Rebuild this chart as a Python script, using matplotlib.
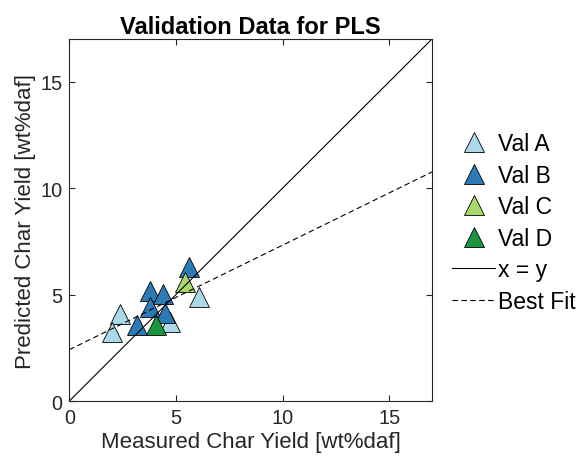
import numpy as np
import matplotlib.pyplot as plt

plt.rcParams["font.family"] = ["Liberation Sans", "DejaVu Sans"]

# measured vs predicted char yield [wt%daf]
val_a_x = [2.37, 1.98, 4.71, 6.08]
val_a_y = [4.08, 3.23, 3.71, 4.87]
val_b_x = [5.59, 3.80, 4.40, 3.77, 4.47, 3.18]
val_b_y = [6.28, 5.18, 5.03, 4.43, 4.14, 3.57]
val_c_x = [5.44]
val_c_y = [5.58]
val_d_x = [4.04]
val_d_y = [3.57]

fit_intercept = 2.41
fit_slope = 0.491

series = [
    ("Val A", val_a_x, val_a_y, "#abd9e9"),
    ("Val B", val_b_x, val_b_y, "#2c7bb6"),
    ("Val C", val_c_x, val_c_y, "#a6d96a"),
    ("Val D", val_d_x, val_d_y, "#1a9641"),
]

fig = plt.figure(figsize=(5.81, 4.64), dpi=100)
ax = fig.add_axes([0.1193, 0.1336, 0.6243, 0.7802])

for name, xs, ys, col in series:
    ax.plot(xs, ys, linestyle="none", marker="^", markersize=14,
            markerfacecolor=col, markeredgecolor="black", markeredgewidth=0.6,
            label=name)

lim = np.array([0, 17])
ax.plot(lim, lim, color="black", linewidth=0.8, label="x = y")
ax.plot(lim, fit_intercept + fit_slope * lim, color="black", linewidth=0.8,
        linestyle=(0, (5, 3)), label="Best Fit")

ax.set_xlim(0, 17)
ax.set_ylim(0, 17)
ax.set_xticks([0, 5, 10, 15])
ax.set_yticks([0, 5, 10, 15])
ax.tick_params(direction="in", length=4, labelsize=14.3, colors="#262626",
               top=True, right=True, pad=5)
for sp in ax.spines.values():
    sp.set_color("#262626")
    sp.set_linewidth(0.8)

ax.set_xlabel("Measured Char Yield [wt%daf]", fontsize=16, color="#262626",
              labelpad=3)
ax.set_ylabel("Predicted Char Yield [wt%daf]", fontsize=16, color="#262626",
              labelpad=3)
ax.set_title("Validation Data for PLS", fontsize=17, fontweight="bold", pad=4)

ax.legend(loc="center left", bbox_to_anchor=(1.055, 0.493), frameon=False,
          fontsize=16.5, handlelength=1.88, handletextpad=0.12,
          labelspacing=0.37, borderpad=0, borderaxespad=0)

fig.savefig("out.png", dpi=100)
